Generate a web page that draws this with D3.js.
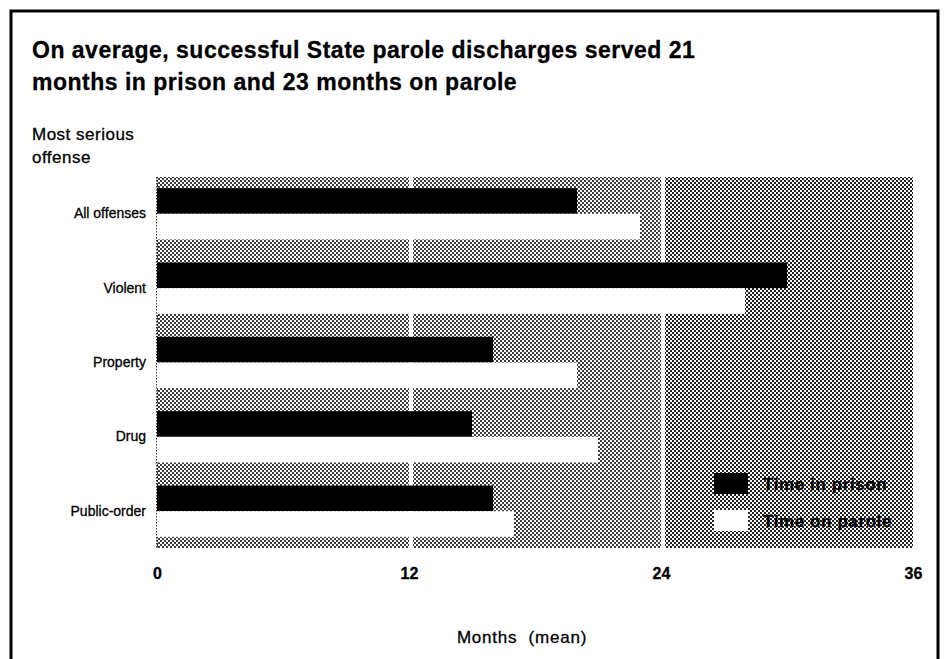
<!DOCTYPE html>
<html>
<head>
<meta charset="utf-8">
<script src="https://cdn.jsdelivr.net/npm/d3@7"></script>
<style>
  html, body { margin: 0; padding: 0; background: #fff; }
  svg { display: block; font-family: "Liberation Sans", Arial, Helvetica, sans-serif; }
  svg text { stroke: #000; stroke-width: 0.3px; }
  .xAxis path, .yAxis path { stroke: none; }
  .xAxis text { font-size: 16px; font-weight: bold; fill: #000; }
  .yAxis text { font-size: 14px; fill: #000; }
</style>
</head>
<body>
<svg id="chart"></svg>
<script>
const categories = ['All offenses', 'Violent', 'Property', 'Drug', 'Public-order']
const timeInPrison = [20, 30, 16, 15, 16]
const timeOnParole = [23, 28, 20, 21, 17]
const seriesNames = ['Time in prison', 'Time on parole']
const monthTicks = [0, 12, 24, 36]
const gridTicks = [12, 24]
const titleLines = [
  'On average, successful State parole discharges served 21',
  'months in prison and 23 months on parole'
]
const yTitleLines = ['Most serious', 'offense']
const xTitle = 'Months  (mean)'

const width = 945
const height = 659
const plot = { left: 157, right: 913, top: 177, bottom: 548 }
const colors = { 'Time in prison': '#000', 'Time on parole': '#fff' }

const data = categories.map((c, i) => ({
  category: c,
  'Time in prison': timeInPrison[i],
  'Time on parole': timeOnParole[i]
}))

const svg = d3.select('#chart')
  .attr('width', width)
  .attr('height', height)

svg.append('rect')
  .attr('width', width)
  .attr('height', height)
  .attr('fill', '#fff')

// halftone screens used behind the bars (the right part of the scan prints a bit darker)
const defs = svg.append('defs')
const addScreen = (id, ink) => {
  const p = defs.append('pattern')
    .attr('id', id)
    .attr('patternUnits', 'userSpaceOnUse')
    .attr('width', 4)
    .attr('height', 4)
  p.append('rect').attr('width', 4).attr('height', 4).attr('fill', '#fff')
  p.append('rect').attr('x', 0).attr('y', 0).attr('width', 2).attr('height', 2).attr('fill', ink)
  p.append('rect').attr('x', 2).attr('y', 2).attr('width', 2).attr('height', 2).attr('fill', ink)
}
addScreen('halftone-light', '#3c3c3c')
addScreen('halftone-dark', '#222')

// outer frame
svg.append('rect')
  .attr('x', 11)
  .attr('y', 11)
  .attr('width', 927)
  .attr('height', 720)
  .attr('fill', 'none')
  .attr('stroke', '#000')
  .attr('stroke-width', 3)

svg.append('g')
  .selectAll('text')
  .data(titleLines)
  .enter().append('text')
  .attr('x', 32)
  .attr('y', (d, i) => 58 + i * 32)
  .attr('font-size', 23)
  .attr('font-weight', 'bold')
  .attr('letter-spacing', 0.5)
  .text(d => d)

svg.append('g')
  .selectAll('text')
  .data(yTitleLines)
  .enter().append('text')
  .attr('x', 32)
  .attr('y', (d, i) => 140 + i * 23)
  .attr('font-size', 17)
  .attr('letter-spacing', 0.5)
  .text(d => d)

const x = d3.scaleLinear()
  .domain([0, 36])
  .range([plot.left, plot.right])

const y = d3.scaleBand()
  .domain(categories)
  .range([plot.top, plot.bottom])
  .paddingInner(0.31)
  .paddingOuter(0.15)

const ySeries = d3.scaleBand()
  .domain(seriesNames)
  .range([0, y.bandwidth()])

svg.append('rect')
  .attr('x', plot.left)
  .attr('y', plot.top)
  .attr('width', x(24) - plot.left)
  .attr('height', plot.bottom - plot.top)
  .attr('fill', 'url(#halftone-light)')

svg.append('rect')
  .attr('x', x(24))
  .attr('y', plot.top)
  .attr('width', plot.right - x(24))
  .attr('height', plot.bottom - plot.top)
  .attr('fill', 'url(#halftone-dark)')

svg.append('g')
  .selectAll('line')
  .data(gridTicks)
  .enter().append('line')
  .attr('x1', d => x(d) + 2)
  .attr('x2', d => x(d) + 2)
  .attr('y1', plot.top)
  .attr('y2', plot.bottom)
  .attr('stroke', '#fff')
  .attr('stroke-width', 4)

svg.append('line')
  .attr('x1', plot.left)
  .attr('x2', plot.left)
  .attr('y1', plot.top)
  .attr('y2', plot.bottom)
  .attr('stroke', '#000')
  .attr('stroke-width', 1.5)
  .attr('stroke-dasharray', '1.5,1.5')

const groups = svg.append('g')
  .selectAll('g')
  .data(data)
  .enter().append('g')
  .attr('transform', d => `translate(0,${y(d.category)})`)

groups.selectAll('rect')
  .data(d => seriesNames.map(s => ({ series: s, value: d[s] })))
  .enter().append('rect')
  .attr('x', x(0))
  .attr('y', d => ySeries(d.series))
  .attr('width', d => x(d.value) - x(0))
  .attr('height', ySeries.bandwidth())
  .attr('fill', d => colors[d.series])

svg.append('g')
  .attr('class', 'xAxis')
  .attr('transform', `translate(0,${plot.bottom})`)
  .call(d3.axisBottom(x).tickValues(monthTicks).tickSize(0).tickPadding(20).tickFormat(d3.format('d')))

svg.append('g')
  .attr('class', 'yAxis')
  .attr('transform', `translate(${plot.left},0)`)
  .call(d3.axisLeft(y).tickSize(0).tickPadding(11))

svg.append('text')
  .attr('x', 522)
  .attr('y', 643)
  .attr('text-anchor', 'middle')
  .attr('font-size', 17)
  .attr('letter-spacing', 0.8)
  .style('white-space', 'pre')
  .text(xTitle)

const legend = svg.append('g')
  .selectAll('g')
  .data(seriesNames)
  .enter().append('g')
  .attr('transform', (d, i) => `translate(714,${473 + i * 37})`)

legend.append('rect')
  .attr('width', 34)
  .attr('height', 21)
  .attr('fill', d => colors[d])

legend.append('text')
  .attr('x', 49)
  .attr('y', 17)
  .attr('font-size', 17)
  .attr('font-weight', 'bold')
  .attr('letter-spacing', 0.6)
  .text(d => d)
</script>
</body>
</html>
